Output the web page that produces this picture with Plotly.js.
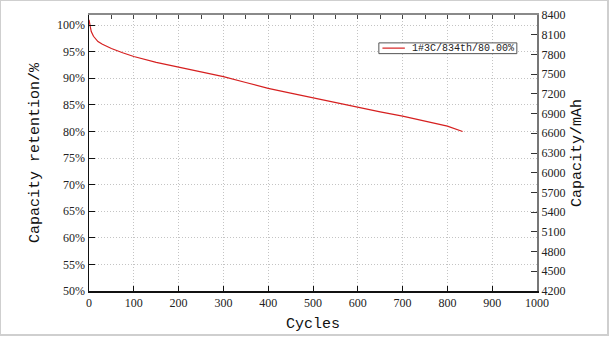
<!DOCTYPE html>
<html>
<head>
<meta charset="utf-8">
<script src="https://cdn.plot.ly/plotly-3.0.1.min.js"></script>
<style>
html,body{margin:0;padding:0;background:#fff;}
#chart{width:611px;height:338px;position:absolute;left:0;top:0;}
#frame{position:absolute;left:0;top:0;width:606px;height:333px;border:1px solid #cfcfcf;border-width:1px 2px 2px 1px;pointer-events:none;}
</style>
</head>
<body>
<div id="chart"></div>
<div id="frame"></div>
<script>
const cycles = [0, 2, 5, 10, 15, 20, 30, 40, 50, 75, 100, 150, 200, 250, 300, 350, 400, 450, 500, 550, 600, 650, 700, 750, 800, 834];
const retention = [101.0, 100.0, 98.8, 97.9, 97.3, 96.9, 96.4, 96.0, 95.6, 94.8, 94.1, 93.0, 92.1, 91.2, 90.3, 89.2, 88.1, 87.2, 86.3, 85.4, 84.6, 83.7, 82.9, 82.0, 81.0, 80.0];
const seriesName = "1#3C/834th/80.00%";
const leftTicks = [50, 55, 60, 65, 70, 75, 80, 85, 90, 95, 100];
const rightTicks = [4200, 4500, 4800, 5100, 5400, 5700, 6000, 6300, 6600, 6900, 7200, 7500, 7800, 8100, 8400];
const xTicks = [0, 100, 200, 300, 400, 500, 600, 700, 800, 900, 1000];

const lineColor = "#d62020";
const tickFont = {family: "Liberation Serif, DejaVu Serif, serif", size: 12, color: "#222"};
const titleFont = {family: "Liberation Mono, DejaVu Sans Mono, monospace", size: 15, color: "#111"};

const traces = [
  {x: cycles, y: retention, type: "scatter", mode: "lines", name: seriesName,
   line: {color: lineColor, width: 1.2}, xaxis: "x", yaxis: "y", showlegend: false},
  {x: [0], y: [4200], type: "scatter", mode: "markers", marker: {opacity: 0},
   showlegend: false, hoverinfo: "skip", xaxis: "x2", yaxis: "y2"}
];

const layout = {
  width: 611, height: 338,
  margin: {l: 89, r: 74, t: 15, b: 47},
  paper_bgcolor: "#fff", plot_bgcolor: "#fff",
  showlegend: false,
  shapes: [
    {type: "rect", xref: "paper", yref: "paper", x0: 0.647, x1: 0.955, y0: 0.860, y1: 0.899,
     fillcolor: "#fff", line: {color: "#555", width: 1}, layer: "above"},
    {type: "line", xref: "paper", yref: "paper", x0: 0.655, x1: 0.705, y0: 0.880, y1: 0.880,
     line: {color: lineColor, width: 1.2}, layer: "above"}
  ],
  annotations: [{
    xref: "paper", yref: "paper", x: 0.719, y: 0.880, xanchor: "left", yanchor: "middle",
    text: seriesName, showarrow: false,
    font: {family: "Liberation Mono, DejaVu Sans Mono, monospace", size: 10, color: "#222"},
    borderpad: 0
  }],
  xaxis: {range: [0, 1000], tickvals: xTicks, ticks: "inside", ticklen: 5, tickcolor: "#111",
    showline: true, linecolor: "#111", linewidth: 1.5, zeroline: false,
    showgrid: true, gridcolor: "#c4c4c4", griddash: "1px,2px", gridwidth: 1,
    tickfont: tickFont,
    title: {text: "Cycles", font: titleFont, standoff: 8}},
  xaxis2: {range: [0, 1000], overlaying: "x", side: "top", dtick: 50, tick0: 0,
    ticks: "inside", ticklen: 4, tickcolor: "#444", showticklabels: false,
    showline: true, linecolor: "#8a8a8a", linewidth: 2, showgrid: false, zeroline: false},
  yaxis: {range: [50, 101.9], tickvals: leftTicks, ticktext: leftTicks.map(v => v + "%"),
    ticks: "inside", ticklen: 6, tickcolor: "#111",
    showline: true, linecolor: "#111", linewidth: 1.5, zeroline: false,
    showgrid: true, gridcolor: "#c4c4c4", griddash: "1px,2px", gridwidth: 1,
    tickfont: tickFont,
    title: {text: "Capacity retention/%", font: titleFont, standoff: 14}},
  yaxis2: {range: [4200, 8400], tickvals: rightTicks, overlaying: "y", side: "right",
    ticks: "inside", ticklen: 6, tickcolor: "#333",
    showline: true, linecolor: "#777", linewidth: 2, showgrid: false, zeroline: false,
    tickfont: tickFont,
    title: {text: "Capacity/mAh", font: titleFont, standoff: 6}}
};

Plotly.newPlot("chart", traces, layout, {displayModeBar: false, staticPlot: true});
</script>
</body>
</html>
